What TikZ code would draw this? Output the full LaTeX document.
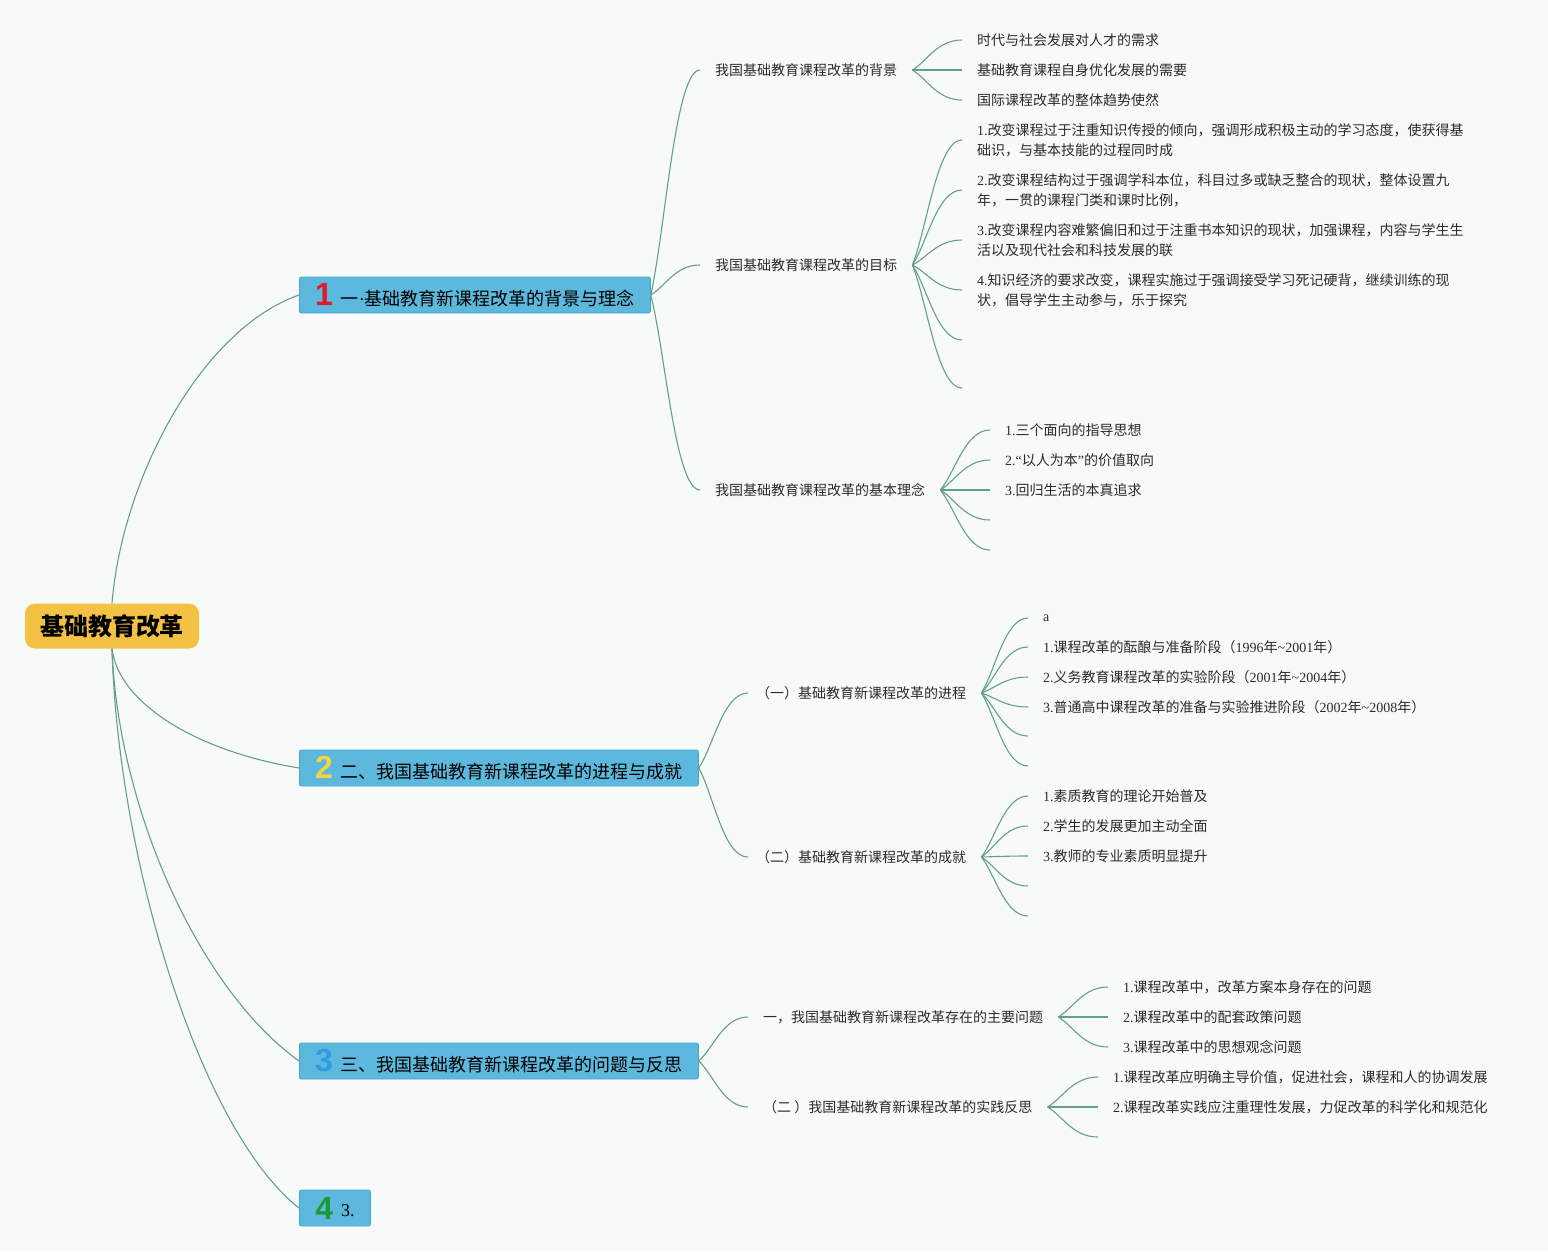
\documentclass[tikz,border=0pt]{standalone}
\usepackage{fontspec}
\setmainfont{Noto Sans CJK SC}
\newfontfamily\lat{Liberation Serif}
\newfontfamily\numfont{Liberation Sans}
\newfontfamily\halfp{Noto Sans CJK SC}[RawFeature=+halt]
\usetikzlibrary{calc}
\definecolor{bgc}{HTML}{F8F9F9}
\definecolor{linkc}{HTML}{62A08C}
\definecolor{boxc}{HTML}{5DB8DD}
\definecolor{boxline}{HTML}{4CA4C8}
\definecolor{rootc}{HTML}{F3C143}
\definecolor{textc}{HTML}{2B2B2B}
\definecolor{numa}{HTML}{E0182D}
\definecolor{numb}{HTML}{F5D443}
\definecolor{numc}{HTML}{2F9DE3}
\definecolor{numd}{HTML}{1A9A35}
\newcommand{\num}[2]{\textcolor{#1}{\numfont\bfseries\fontsize{32}{32}\selectfont #2}\hspace{8pt}}
\begin{document}
\begin{tikzpicture}[x=1pt, y=-1pt,
    rootStyle/.style={rectangle, rounded corners=10pt, fill=rootc, minimum width=174pt, minimum height=45pt, font=\fontsize{24}{28}\selectfont\bfseries},
    boxStyle/.style={rectangle, rounded corners=2pt, fill=boxc, draw=boxline, line width=0.8pt, anchor=west, minimum height=36pt, inner xsep=8pt, inner ysep=2pt, font=\fontsize{18}{22}\selectfont},
    subStyle/.style={anchor=west, inner xsep=15pt, inner ysep=0pt, text=textc, font=\fontsize{14}{20}\selectfont},
    leafStyle/.style={subStyle, align=left},
    link/.style={draw=linkc, line width=1.1pt, to path={.. controls ($(\tikztostart)!0.3!(\tikztotarget)$) and ($(\tikztotarget)!0.5!(\tikztotarget -| \tikztostart)$) .. (\tikztotarget)}}]
    \fill[bgc] (0,0) rectangle (1548,1251);
    \useasboundingbox (0,0) rectangle (1548,1251);

    \node[rootStyle] (root) at (112,626) {基础教育改革};

    \node[boxStyle, minimum width=351pt] (s1) at (299,295) {\num{numa}{1}一{\lat ·}基础教育新课程改革的背景与理念};
    \node[boxStyle, minimum width=399pt] (s2) at (299,768) {\num{numb}{2}二、我国基础教育新课程改革的进程与成就};
    \node[boxStyle, minimum width=399pt] (s3) at (299,1061) {\num{numc}{3}三、我国基础教育新课程改革的问题与反思};
    \node[boxStyle, minimum width=71pt] (s4) at (299,1208) {\num{numd}{4}\raisebox{3pt}{\lat 3.}};

    \node[subStyle] (s1_1) at (700,70) {我国基础教育课程改革的背景};
    \node[subStyle] (s1_2) at (700,265) {我国基础教育课程改革的目标};
    \node[subStyle] (s1_3) at (700,490) {我国基础教育课程改革的基本理念};

    \node[leafStyle] (s1_1_1) at (962,40) {时代与社会发展对人才的需求};
    \node[leafStyle] (s1_1_2) at (962,70) {基础教育课程自身优化发展的需要};
    \node[leafStyle] (s1_1_3) at (962,100) {国际课程改革的整体趋势使然};

    \node[leafStyle] (s1_2_1) at (962,140) {{\lat 1.}改变课程过于注重知识传授的倾向，强调形成积极主动的学习态度，使获得基\\础识，与基本技能的过程同时成};
    \node[leafStyle] (s1_2_2) at (962,190) {{\lat 2.}改变课程结构过于强调学科本位，科目过多或缺乏整合的现状，整体设置九\\年，一贯的课程门类和课时比例，};
    \node[leafStyle] (s1_2_3) at (962,240) {{\lat 3.}改变课程内容难繁偏旧和过于注重书本知识的现状，加强课程，内容与学生生\\活以及现代社会和科技发展的联};
    \node[leafStyle] (s1_2_4) at (962,290) {{\lat 4.}知识经济的要求改变，课程实施过于强调接受学习死记硬背，继续训练的现\\状，倡导学生主动参与，乐于探究};
    \coordinate (s1_2_5) at (962,340);
    \coordinate (s1_2_6) at (962,388);

    \node[leafStyle] (s1_3_1) at (990,430) {{\lat 1.}三个面向的指导思想};
    \node[leafStyle] (s1_3_2) at (990,460) {{\lat 2.“}以人为本{\lat ”}的价值取向};
    \node[leafStyle] (s1_3_3) at (990,490) {{\lat 3.}回归生活的本真追求};
    \coordinate (s1_3_4) at (990,520);
    \coordinate (s1_3_5) at (990,550);

    \node[subStyle] (s2_1) at (748,693) {{\halfp （}一）基础教育新课程改革的进程};
    \node[subStyle] (s2_2) at (748,857) {{\halfp （}二）基础教育新课程改革的成就};

    \node[leafStyle] (s2_1_1) at (1028,618) {\lat a};
    \node[leafStyle] (s2_1_2) at (1028,647) {{\lat 1.}课程改革的酝酿与准备阶段（{\lat 1996}年{\lat\textasciitilde2001}年）};
    \node[leafStyle] (s2_1_3) at (1028,677) {{\lat 2.}义务教育课程改革的实验阶段（{\lat 2001}年{\lat\textasciitilde2004}年）};
    \node[leafStyle] (s2_1_4) at (1028,707) {{\lat 3.}普通高中课程改革的准备与实验推进阶段（{\lat 2002}年{\lat\textasciitilde2008}年）};
    \coordinate (s2_1_5) at (1028,736);
    \coordinate (s2_1_6) at (1028,766);

    \node[leafStyle] (s2_2_1) at (1028,796) {{\lat 1.}素质教育的理论开始普及};
    \node[leafStyle] (s2_2_2) at (1028,826) {{\lat 2.}学生的发展更加主动全面};
    \node[leafStyle] (s2_2_3) at (1028,856) {{\lat 3.}教师的专业素质明显提升};
    \coordinate (s2_2_4) at (1028,886);
    \coordinate (s2_2_5) at (1028,916);

    \node[subStyle] (s3_1) at (748,1017) {一，我国基础教育新课程改革存在的主要问题};
    \node[subStyle] (s3_2) at (748,1107) {（二 ）我国基础教育新课程改革的实践反思};

    \node[leafStyle] (s3_1_1) at (1108,987) {{\lat 1.}课程改革中，改革方案本身存在的问题};
    \node[leafStyle] (s3_1_2) at (1108,1017) {{\lat 2.}课程改革中的配套政策问题};
    \node[leafStyle] (s3_1_3) at (1108,1047) {{\lat 3.}课程改革中的思想观念问题};

    \node[leafStyle] (s3_2_1) at (1098,1077) {{\lat 1.}课程改革应明确主导价值，促进社会，课程和人的协调发展};
    \node[leafStyle] (s3_2_2) at (1098,1107) {{\lat 2.}课程改革实践应注重理性发展，力促改革的科学化和规范化};
    \coordinate (s3_2_3) at (1098,1137);

    \draw[draw=linkc, line width=1.1pt] (root.north) .. controls (122,480) and (200,330) .. (s1.west);
    \draw[draw=linkc, line width=1.1pt] (root.south) .. controls (118,700) and (190,750) .. (s2.west);
    \draw[draw=linkc, line width=1.1pt] (root.south) .. controls (118,810) and (200,990) .. (s3.west);
    \draw[draw=linkc, line width=1.1pt] (root.south) .. controls (118,860) and (200,1130) .. (s4.west);

    \draw[link] (s1.east) to (s1_1.west);
    \draw[link] (s1.east) to (s1_2.west);
    \draw[link] (s1.east) to (s1_3.west);
    \draw[link] (s2.east) to (s2_1.west);
    \draw[link] (s2.east) to (s2_2.west);
    \draw[link] (s3.east) to (s3_1.west);
    \draw[link] (s3.east) to (s3_2.west);

    \draw[link] (s1_1.east) to (s1_1_1.west);
    \draw[link] (s1_1.east) to (s1_1_2.west);
    \draw[link] (s1_1.east) to (s1_1_3.west);

    \draw[link] (s1_2.east) to (s1_2_1.west);
    \draw[link] (s1_2.east) to (s1_2_2.west);
    \draw[link] (s1_2.east) to (s1_2_3.west);
    \draw[link] (s1_2.east) to (s1_2_4.west);
    \draw[link] (s1_2.east) to (s1_2_5);
    \draw[link] (s1_2.east) to (s1_2_6);

    \draw[link] (s1_3.east) to (s1_3_1.west);
    \draw[link] (s1_3.east) to (s1_3_2.west);
    \draw[link] (s1_3.east) to (s1_3_3.west);
    \draw[link] (s1_3.east) to (s1_3_4);
    \draw[link] (s1_3.east) to (s1_3_5);

    \draw[link] (s2_1.east) to (s2_1_1.west);
    \draw[link] (s2_1.east) to (s2_1_2.west);
    \draw[link] (s2_1.east) to (s2_1_3.west);
    \draw[link] (s2_1.east) to (s2_1_4.west);
    \draw[link] (s2_1.east) to (s2_1_5);
    \draw[link] (s2_1.east) to (s2_1_6);

    \draw[link] (s2_2.east) to (s2_2_1.west);
    \draw[link] (s2_2.east) to (s2_2_2.west);
    \draw[link] (s2_2.east) to (s2_2_3.west);
    \draw[link] (s2_2.east) to (s2_2_4);
    \draw[link] (s2_2.east) to (s2_2_5);

    \draw[link] (s3_1.east) to (s3_1_1.west);
    \draw[link] (s3_1.east) to (s3_1_2.west);
    \draw[link] (s3_1.east) to (s3_1_3.west);

    \draw[link] (s3_2.east) to (s3_2_1.west);
    \draw[link] (s3_2.east) to (s3_2_2.west);
    \draw[link] (s3_2.east) to (s3_2_3);
\end{tikzpicture}
\end{document}
